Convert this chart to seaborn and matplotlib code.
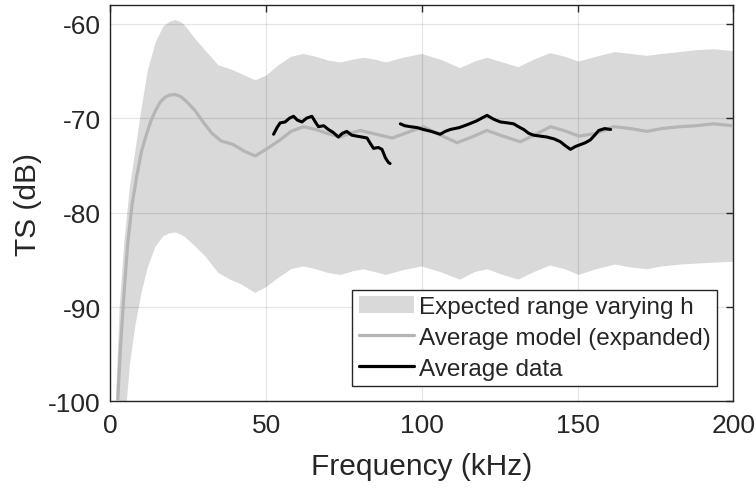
import matplotlib
matplotlib.use('Agg')
import matplotlib.pyplot as plt
import seaborn as sns
from matplotlib.patches import Patch
from matplotlib.lines import Line2D

# Envelope (expected range varying h)
freq_env = [1, 2, 3, 4.5, 6.3, 8, 10, 12, 14.5, 17, 19, 20.8, 22.5, 24, 27, 30.4, 34.7, 38.5, 42,
            46.5, 50, 54, 58, 62, 66, 70, 74, 78, 81.3, 85, 88.5, 94, 100, 106, 112.3, 117, 121,
            126, 131, 136, 141.2, 146, 150.3, 156, 162, 167, 172.3, 177, 183, 188, 194, 200]
ts_upper = [-110, -98, -90, -83, -77.2, -73.5, -69, -65, -62, -60.3, -59.8, -59.6, -59.8, -60.2,
            -61.5, -62.8, -64.4, -64.8, -65.3, -66.0, -65.5, -64.4, -63.5, -63.2, -63.5, -63.9,
            -64.1, -63.8, -63.6, -63.8, -64.1, -63.6, -63.2, -63.8, -64.7, -64.0, -63.6, -64.1,
            -64.6, -63.8, -63.1, -63.5, -64.0, -63.5, -63.0, -63.2, -63.4, -63.2, -63.0, -62.8,
            -62.7, -62.9]
ts_lower = [-150, -125, -112, -103, -96, -92, -88.5, -85.8, -83.6, -82.5, -82.2, -82.1, -82.3,
            -82.6, -83.5, -84.6, -86.4, -87.1, -87.6, -88.5, -87.9, -86.9, -86.0, -85.7, -86.0,
            -86.4, -86.6, -86.2, -86.0, -86.3, -86.6, -86.1, -85.7, -86.3, -87.1, -86.3, -86.0,
            -86.6, -87.1, -86.3, -85.6, -86.0, -86.6, -86.0, -85.5, -85.8, -86.0, -85.7, -85.5,
            -85.4, -85.3, -85.2]

# Average model (expanded)
freq_model = [1.5, 2.4, 3.3, 4.3, 5.5, 6.9, 8.5, 10, 11.5, 13, 14.5, 16, 17.5, 19, 20.8, 22.5, 24,
              25.5, 27.2, 30, 32.6, 35.5, 39.5, 43, 46.5, 50, 54.5, 58, 62, 66, 69.5, 73.8, 77,
              80.2, 86.6, 90.5, 96.3, 100.5, 106, 111.3, 116, 120.9, 126, 131.6, 136, 141.3,
              145.5, 150.5, 156, 161.6, 167, 172.3, 177, 182.9, 188, 193.7, 200]
ts_model = [-110, -99.7, -94, -89, -83.5, -79.3, -76.1, -73.5, -71.8, -70.3, -69.2, -68.3, -67.8,
            -67.55, -67.5, -67.7, -68.1, -68.6, -69.2, -70.5, -71.6, -72.4, -72.8, -73.5, -74.0,
            -73.3, -72.3, -71.4, -70.9, -71.2, -71.6, -72.0, -71.6, -71.3, -71.8, -72.1, -71.4,
            -70.9, -71.8, -72.6, -72.0, -71.3, -71.9, -72.5, -71.8, -70.9, -71.3, -71.9, -71.6,
            -70.9, -71.1, -71.4, -71.1, -70.9, -70.8, -70.6, -70.8]

# Average data, two measured bands
freq_data1 = [52.4, 53.5, 54.5, 56.1, 57.5, 58.8, 60, 61.5, 63, 64.7, 65.8, 66.8, 68.5, 70, 71.5,
              73.2, 74.5, 75.9, 77.5, 79.1, 80.8, 82.4, 83.5, 84.5, 86, 87.2, 88.3, 89.3, 89.8]
ts_data1 = [-71.7, -71.0, -70.5, -70.4, -70.0, -69.8, -70.2, -70.4, -70.0, -69.8, -70.4, -70.9,
            -70.8, -71.2, -71.5, -72.0, -71.6, -71.4, -71.8, -71.9, -72.0, -72.1, -72.7, -73.2,
            -73.1, -73.3, -74.2, -74.7, -74.8]
freq_data2 = [93.1, 94.5, 96.3, 98.5, 100.5, 103, 105.9, 107.5, 109.1, 112, 114.5, 117.5, 120.9,
              123, 125.2, 127.5, 129.5, 131, 132.7, 134.3, 135.9, 138, 140.2, 142.5, 144.5, 146,
              147.7, 149.3, 150.9, 152.5, 154.1, 155.5, 156.8, 158.7, 160.6]
ts_data2 = [-70.6, -70.8, -70.9, -71.0, -71.2, -71.4, -71.7, -71.4, -71.2, -71.0, -70.7, -70.3,
            -69.7, -70.1, -70.4, -70.5, -70.6, -70.9, -71.2, -71.6, -71.8, -71.9, -72.0, -72.2,
            -72.5, -72.9, -73.3, -73.0, -72.8, -72.6, -72.3, -71.8, -71.3, -71.1, -71.2]

labels = ['Expected range varying h', 'Average model (expanded)', 'Average data']

sns.set_style('white')
plt.rcParams['font.family'] = ['Liberation Sans', 'DejaVu Sans']
plt.rcParams['axes.unicode_minus'] = False

fig, ax = plt.subplots(figsize=(7.56, 4.89), dpi=100)
fig.subplots_adjust(left=0.146, right=0.970, top=0.988, bottom=0.177)

fill_col = '#d9d9d9'
model_col = '#b5b5b5'

ax.fill_between(freq_env, ts_lower, ts_upper, color=fill_col, linewidth=0, zorder=1)
sns.lineplot(x=freq_model, y=ts_model, color=model_col, linewidth=2.3, ax=ax, zorder=3)
for fx, ty in [(freq_data1, ts_data1), (freq_data2, ts_data2)]:
    sns.lineplot(x=fx, y=ty, color='black', linewidth=2.2, ax=ax, zorder=4)

ax.set_xlim(0, 200)
ax.set_ylim(-100, -58)
ax.set_xticks([0, 50, 100, 150, 200])
ax.set_yticks([-100, -90, -80, -70, -60])

# grid above the fill, like matlab
ax.set_axisbelow(False)
ax.grid(True, color='black', alpha=0.10, linewidth=0.9, zorder=2)

dark = '#262626'
for s in ax.spines.values():
    s.set_visible(True)
    s.set_color(dark)
    s.set_linewidth(1.0)
ax.tick_params(direction='in', length=5, width=1, colors=dark, labelsize=19,
               top=True, right=True, labelcolor=dark, pad=7)
ax.tick_params(axis='x', pad=8)
ax.set_xlabel('Frequency (kHz)', fontsize=21.5, color=dark, labelpad=11)
ax.set_ylabel('TS (dB)', fontsize=21.5, color=dark, labelpad=4)

handles = [Patch(facecolor=fill_col, edgecolor='none'),
           Line2D([], [], color=model_col, linewidth=2.3),
           Line2D([], [], color='black', linewidth=2.3)]
leg = ax.legend(handles, labels, loc='lower right', bbox_to_anchor=(0.974, 0.04),
                fontsize=17.5, frameon=True, fancybox=False, framealpha=1,
                edgecolor=dark, handlelength=2.3, handletextpad=0.2,
                labelspacing=0.35, borderpad=0.25, borderaxespad=0)
leg.get_frame().set_linewidth(1.0)
for t in leg.get_texts():
    t.set_color(dark)

fig.savefig('out.png', dpi=100)
